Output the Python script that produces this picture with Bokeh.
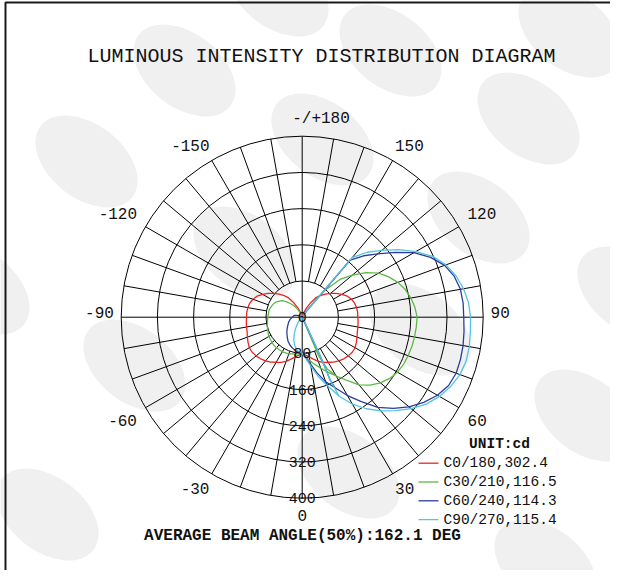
import numpy as np
from bokeh.plotting import figure
from bokeh.models import Range1d
from bokeh.core.properties import value
from bokeh.embed import file_html
from bokeh.resources import INLINE

# ---------------- chart content ----------------
TITLE = "LUMINOUS INTENSITY DISTRIBUTION DIAGRAM"
FOOTER = "AVERAGE BEAM ANGLE(50%):162.1 DEG"
UNIT = "UNIT:cd"

ring_values = [80, 160, 240, 320, 400]
ring_labels = ["0", "80", "160", "240", "320", "400"]
ring_label_values = [0, 80, 160, 240, 320, 400]

angle_ticks = [0, 30, 60, 90, 120, 150, 180, -150, -120, -90, -60, -30]
angle_labels = ["0", "30", "60", "90", "120", "150", "-/+180",
                "-150", "-120", "-90", "-60", "-30"]

series_names = ["C0/180,302.4", "C30/210,116.5", "C60/240,114.3", "C90/270,115.4"]
series_colors = ["#ec2424", "#5db848", "#2b3d9b", "#54c4e0"]

# vertical angle (gamma), degrees from nadir
gamma = list(range(0, 181, 5))

# intensities (cd), one value per gamma
c0 = [80, 84, 89, 96, 104, 110, 115, 121, 126, 130, 133, 135, 135, 132, 129, 126, 125, 124, 123,
      123, 122, 120, 116, 110, 101, 92, 82, 72, 62, 52, 36, 22, 12, 6, 2, 0, 0]
c180 = [80, 84, 89, 96, 104, 110, 115, 121, 126, 130, 133, 135, 135, 132, 129, 126, 125, 124, 123,
        123, 122, 120, 116, 110, 101, 92, 82, 72, 62, 52, 36, 22, 12, 6, 2, 0, 0]
c30 = [80, 88, 98, 108, 120, 134, 150, 170, 195, 212, 226, 236, 243, 247, 249, 251, 252, 253, 254,
       250, 244, 236, 225, 211, 195, 172, 145, 118, 78, 20, 3, 0, 0, 0, 0, 0, 0]
c210 = [80, 81, 83, 84, 86, 87, 88, 88, 88, 88, 87, 86, 85, 83, 81, 80, 78, 77, 76,
        75, 75, 74, 72, 70, 67, 62, 57, 48, 38, 30, 20, 12, 6, 2, 0, 0, 0]
c60 = [80, 90, 105, 128, 152, 172, 200, 228, 260, 285, 308, 328, 345, 357, 362, 362, 361, 359, 357,
       357, 355, 348, 335, 313, 285, 250, 218, 192, 165, 15, 4, 0, 0, 0, 0, 0, 0]
c240 = [80, 78, 76, 73, 70, 66, 62, 57, 52, 48, 44, 40, 37, 34, 32, 29, 27, 24, 22,
        20, 19, 16, 12, 8, 5, 2, 0, 0, 0, 0, 0, 0, 0, 0, 0, 0, 0]
c90 = [80, 92, 110, 135, 160, 192, 222, 247, 270, 292, 314, 335, 350, 362, 371, 375, 375, 373, 372,
       369, 362, 352, 338, 318, 290, 260, 230, 203, 172, 15, 4, 0, 0, 0, 0, 0, 0]
c270 = [80, 78, 72, 64, 54, 42, 30, 20, 12, 7, 3, 1, 0, 0, 0, 0, 0, 0, 0,
        0, 0, 0, 0, 0, 0, 0, 0, 0, 0, 0, 0, 0, 0, 0, 0, 0, 0]

# second trace that runs from the centre back down into each lobe
c30_inner_gamma = [23, 23, 26, 30]
c30_inner_cd = [8, 92, 128, 150]
c60_inner_gamma = [28, 25, 24, 25]
c60_inner_cd = [6, 95, 152, 172]
c90_inner_gamma = [29, 25, 24, 25]
c90_inner_cd = [6, 93, 150, 192]

series_right = [c0, c30, c60, c90]
series_left = [c180, c210, c240, c270]
series_inner = [([], []), (c30_inner_gamma, c30_inner_cd),
                (c60_inner_gamma, c60_inner_cd), (c90_inner_gamma, c90_inner_cd)]

# ---------------- layout ----------------
FONT = value("Liberation Mono")
W, H = 610, 570
CX, CY = 301.7, 316.7          # polar centre, picture pixels
S = 400 / 181.0                # cd per pixel


def to_xy(ang_deg, cd):
    a = np.radians(np.asarray(ang_deg, dtype=float))
    r = np.asarray(cd, dtype=float)
    return r * np.sin(a), -r * np.cos(a)


def page(X, Y):
    return (X - CX) * S, (CY - Y) * S


p = figure(width=W, height=H,
           x_range=Range1d((0 - CX) * S, (W - CX) * S),
           y_range=Range1d((CY - H) * S, CY * S),
           output_backend="svg", toolbar_location=None,
           x_axis_location=None, y_axis_location=None, min_border=0,
           background_fill_color="white", border_fill_color="white",
           outline_line_color=None)
p.grid.visible = False

# faint background watermark ellipses
bg_centres = [(277, -10), (184, 70), (390, 50), (569, 31), (86, 161), (322, 139),
              (528, 118), (244, 252), (478, 217), (628, 292), (-22, 288), (134, 365),
              (420, 329), (585, 415), (348, 472), (47, 514), (545, 565), (665, 178)]
bx = [page(X, Y)[0] for X, Y in bg_centres]
by = [page(X, Y)[1] for X, Y in bg_centres]
p.ellipse(x=bx, y=by, width=2 * 58 * S, height=2 * 37 * S, angle=-38, angle_units="deg",
          fill_color="#f0f0f0", line_color=None)

# picture frame
fl, ft = page(5, 2)
fr, fb = page(624, 585)
p.quad(left=[fl], right=[fr], top=[ft], bottom=[fb], fill_color=None,
       line_color="#1a1a1a", line_width=2)

# polar grid
p.circle(x=[0] * len(ring_values), y=[0] * len(ring_values), radius=ring_values,
         fill_color=None, line_color="black", line_width=1)
spokes = [a for a in range(0, 360, 10) if a % 90 != 0]
x0, y0 = to_xy(spokes, [ring_values[0]] * len(spokes))
x1, y1 = to_xy(spokes, [ring_values[-1]] * len(spokes))
p.segment(x0=x0, y0=y0, x1=x1, y1=y1, line_color="black", line_width=1)
rmax = ring_values[-1]
p.segment(x0=[-rmax, 0], y0=[0, -rmax], x1=[rmax, 0], y1=[0, rmax],
          line_color="black", line_width=1)

# intensity curves
for right, left, (ig, icd), color in zip(series_right, series_left, series_inner, series_colors):
    angs = [-g for g in gamma[::-1]] + list(gamma) + list(ig)
    vals = list(left[::-1]) + list(right) + list(icd)
    x, y = to_xy(angs, vals)
    p.line(x=x, y=y, line_color=color, line_width=1.3)

# ring labels along the nadir axis
p.text(x=[0] * len(ring_labels), y=[-v for v in ring_label_values], text=ring_labels,
       text_font=FONT, text_font_size="15px", text_align="center",
       text_baseline="alphabetic", text_color="#111111")

# angle labels round the outside
lx, ly = [], []
for a, lab in zip(angle_ticks, angle_labels):
    t = np.radians(a)
    s, c = np.sin(t), np.cos(t)
    sg = np.sign(s)
    dx = 198 * s + sg * 4.7 * max(len(lab) - 2, 0) + sg * 4 * abs(np.sin(2 * t))
    dy = 198 * c
    if abs(abs(c) - 0.5) < 0.01:
        dy += 4.4 * np.sign(c)
    if abs(c) < 0.01:
        dy -= 4.7
    lx.append(dx * S)
    ly.append(-dy * S)
p.text(x=lx, y=ly, text=angle_labels, text_font=FONT, text_font_size="16px",
       text_align="center", text_baseline="middle", text_color="#111111")

# title and footer
tx, ty = page(321, 56)
p.text(x=[tx], y=[ty], text=[TITLE], text_font=FONT, text_font_size="20px",
       text_align="center", text_baseline="middle", text_color="#111111")
fx, fy = page(302, 535)
p.text(x=[fx], y=[fy], text=[FOOTER], text_font=FONT, text_font_size="16px",
       text_font_style="bold", text_align="center", text_baseline="middle",
       text_color="#111111")

# legend
ux, uy = page(499, 443)
p.text(x=[ux], y=[uy], text=[UNIT], text_font=FONT, text_font_size="14.5px",
       text_font_style="bold", text_align="center", text_baseline="middle",
       text_color="#111111")
rows = [462.7 + 18.8 * i for i in range(len(series_names))]
lx0 = [page(418, r)[0] for r in rows]
lx1 = [page(438, r)[0] for r in rows]
lyy = [page(418, r)[1] for r in rows]
p.segment(x0=lx0, y0=lyy, x1=lx1, y1=lyy, line_color=series_colors, line_width=1.3)
txx = [page(443, r)[0] for r in rows]
p.text(x=txx, y=lyy, text=series_names, text_font=FONT, text_font_size="14.5px",
       text_align="left", text_baseline="middle", text_color="#111111")

open("out.html", "w").write(file_html(p, INLINE))
